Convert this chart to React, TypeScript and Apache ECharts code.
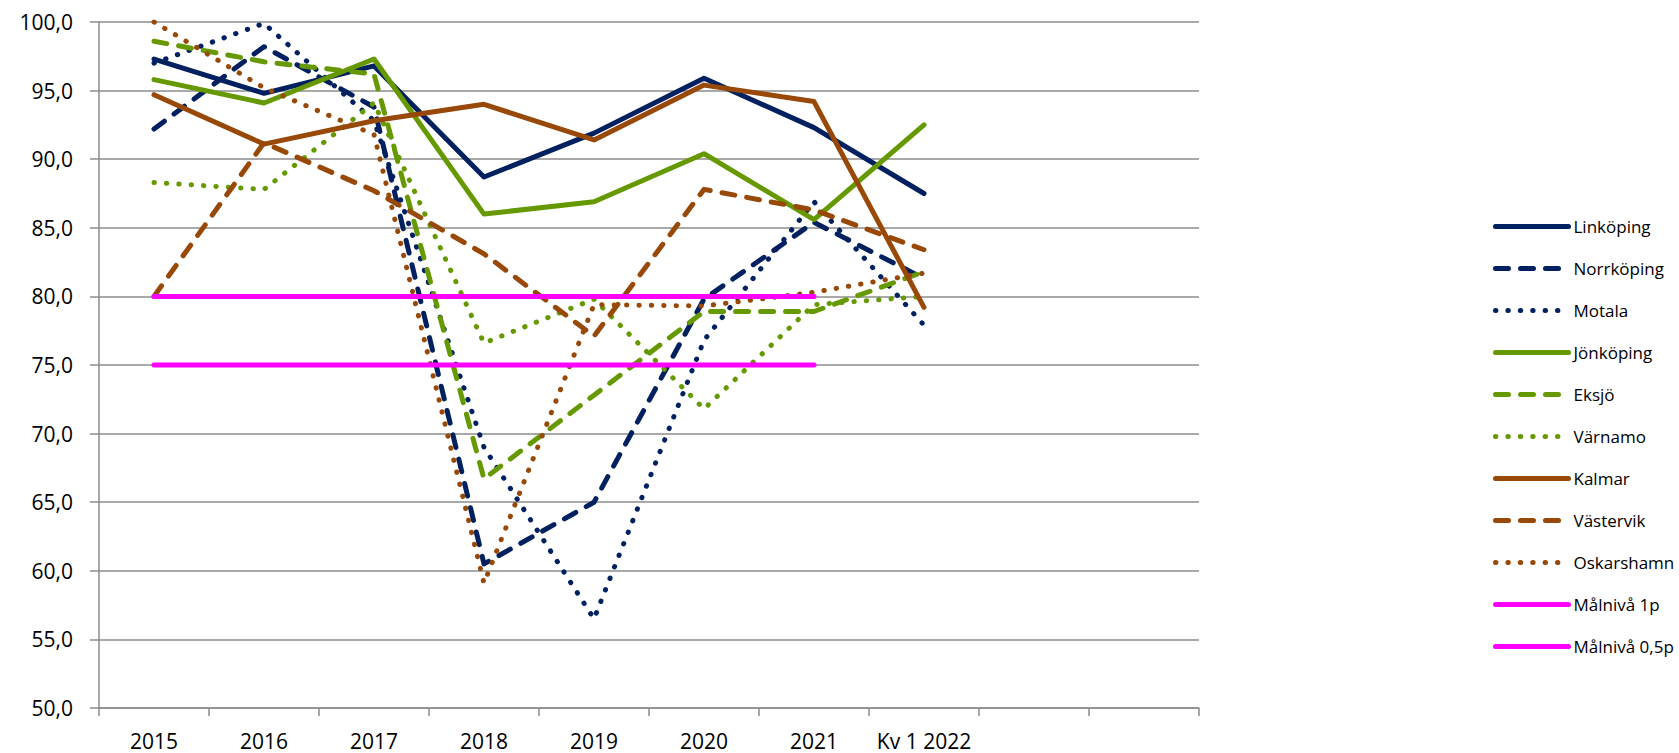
import { useEffect, useRef } from "react";
import * as echarts from "echarts";

const categories = ["2015", "2016", "2017", "2018", "2019", "2020", "2021", "Kv 1 2022", "", ""];

const linkoping = [97.3, 94.8, 96.8, 88.7, 91.9, 95.9, 92.3, 87.5];
const norrkoping = [92.2, 98.2, 93.8, 60.5, 65.0, 79.8, 85.4, 81.3];
const motala = [97.0, 99.9, 92.8, 69.0, 56.5, 76.8, 86.9, 77.9];
const jonkoping = [95.8, 94.1, 97.3, 86.0, 86.9, 90.4, 85.6, 92.5];
const eksjo = [98.6, 97.1, 96.2, 66.7, 72.8, 78.9, 78.9, 81.8];
const varnamo = [88.3, 87.8, 94.1, 76.6, 79.8, 71.8, 79.4, 80.0];
const kalmar = [94.7, 91.1, 92.8, 94.0, 91.4, 95.4, 94.2, 79.2];
const vastervik = [80.0, 91.2, 87.7, 83.1, 77.1, 87.8, 86.3, 83.4];
const oskarshamn = [100.0, 95.2, 91.8, 59.1, 79.4, 79.3, 80.3, 81.7];
const malniva1p = [80, 80, 80, 80, 80, 80, 80];
const malniva05p = [75, 75, 75, 75, 75, 75, 75];

const NAVY = "#002060";
const GREEN = "#669900";
const BROWN = "#984807";
const MAGENTA = "#ff00ff";

const SOLID = "solid";
const DASHED = [13, 12];
const DOTTED = [0.4, 12];

const FONT = "'Open Sans', 'Noto Sans', sans-serif";

const lineSeries = (name: string, data: number[], color: string, type: any) => ({
  name,
  type: "line",
  data,
  symbol: "none",
  color,
  lineStyle: { color, width: 5, type, cap: "round", join: "round" },
  emphasis: { disabled: true },
});

const App = () => {
  const chartRef = useRef(null);

  useEffect(() => {
    document.body.style.margin = "0";
    if (chartRef.current) {
      const chart = echarts.init(chartRef.current, null, { renderer: "svg" });
      const option = {
        animation: false,
        backgroundColor: "#fff",
        textStyle: { fontFamily: FONT },
        grid: { left: 99, top: 22, width: 1100, height: 686 },
        legend: {
          orient: "vertical",
          left: 1488,
          top: 213,
          itemWidth: 73,
          itemHeight: 16,
          itemGap: 25,
          itemStyle: { opacity: 0 },
          lineStyle: { width: 5, cap: "round" },
          textStyle: { fontSize: 17, color: "#000", fontFamily: FONT },
        },
        xAxis: {
          type: "category",
          data: categories,
          boundaryGap: true,
          axisLine: { lineStyle: { color: "#8c8c8c", width: 1.5 } },
          axisTick: { show: true, length: 8, lineStyle: { color: "#8c8c8c", width: 1.5 } },
          axisLabel: { color: "#000", fontSize: 21, margin: 22, interval: 0, fontFamily: FONT },
        },
        yAxis: {
          type: "value",
          min: 50,
          max: 100,
          interval: 5,
          axisLine: { show: true, lineStyle: { color: "#8c8c8c", width: 1.5 } },
          axisTick: { show: true, length: 9, lineStyle: { color: "#8c8c8c", width: 1.5 } },
          axisLabel: {
            color: "#000",
            fontSize: 21,
            margin: 26,
            fontFamily: FONT,
            formatter: (v: number) => v.toFixed(1).replace(".", ","),
          },
          splitLine: { lineStyle: { color: "#8c8c8c", width: 1.5 } },
        },
        series: [
          lineSeries("Linköping", linkoping, NAVY, SOLID),
          lineSeries("Norrköping", norrkoping, NAVY, DASHED),
          lineSeries("Motala", motala, NAVY, DOTTED),
          lineSeries("Jönköping", jonkoping, GREEN, SOLID),
          lineSeries("Eksjö", eksjo, GREEN, DASHED),
          lineSeries("Värnamo", varnamo, GREEN, DOTTED),
          lineSeries("Kalmar", kalmar, BROWN, SOLID),
          lineSeries("Västervik", vastervik, BROWN, DASHED),
          lineSeries("Oskarshamn", oskarshamn, BROWN, DOTTED),
          lineSeries("Målnivå 1p", malniva1p, MAGENTA, SOLID),
          lineSeries("Målnivå 0,5p", malniva05p, MAGENTA, SOLID),
        ],
      };
      chart.setOption(option);
      return () => {
        chart.dispose();
      };
    }
  }, []);

  return <div ref={chartRef} style={{ width: 1679, height: 753 }} />;
};

export default App;
